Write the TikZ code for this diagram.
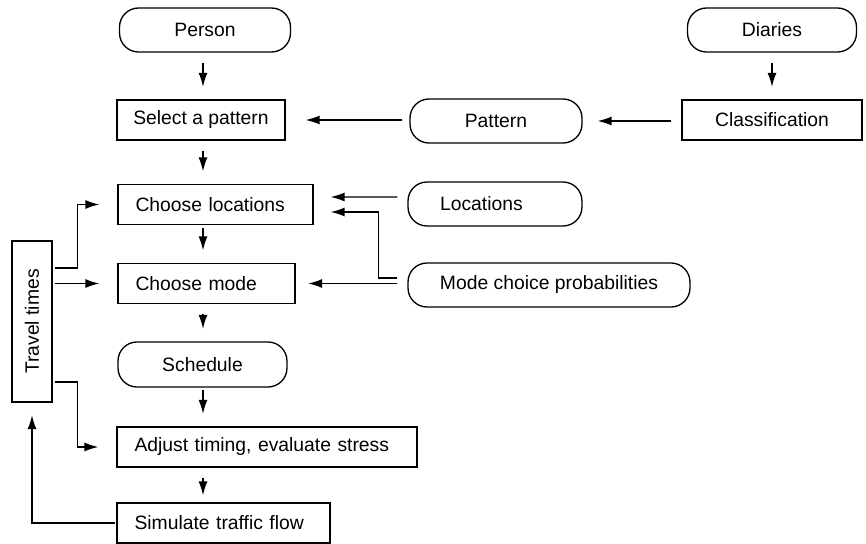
\documentclass[tikz,border=0pt]{standalone}
\usepackage{fontspec}
\setmainfont{Liberation Sans}
\usepackage{graphicx}
\usetikzlibrary{arrows.meta}

\tikzset{
  box/.style={draw, line width=0.75pt, minimum height=0.8cm, font=\fontsize{11}{13}\selectfont},
  process/.style={box, inner xsep=0.35cm, text width=#1, align=left},
  terminal/.style={box, rounded corners=0.38cm, minimum height=0.88cm, minimum width=#1},
  flow/.style={-{Latex[length=0.28cm,width=0.18cm]}, line width=0.8pt, shorten <=0.2cm, shorten >=0.25cm}
}

\begin{document}
\begin{tikzpicture}[x=0.02cm, y=-0.02cm]
  \useasboundingbox (0,0) rectangle (866,544);

  % Define the main column
  \coordinate (spine) at (203,0);

  % Inputs
  \node[terminal=3.42cm] (person) at (205,30) {Person};
  \node[terminal=3.38cm] (diaries) at (772,30) {Diaries};
  \node[box, minimum width=3.6cm] (classif) at (772,120) {Classification};
  \node[terminal=3.44cm] (pattern) at (496,121) {Pattern};
  \node[terminal=3.48cm, text width=2.2cm, align=left, inner xsep=0.64cm] (locations) at (495,204) {Locations};
  \node[terminal=5.64cm] (modeprob) at (549,285) {Mode choice probabilities};

  % Steps
  \node[box, minimum width=3.36cm] (select) at (201,120) {Select a pattern};
  \node[process=3.2cm] (chooseloc) at (215.5,204.5) {Choose locations};
  \node[process=2.84cm] (choosemode) at (206.5,283.5) {Choose mode};
  \node[terminal=3.38cm, minimum height=0.9cm] (schedule) at (202.5,364.5) {Schedule};
  \node[process=5.3cm] (adjust) at (267,447) {Adjust timing, evaluate stress};
  \node[process=3.56cm] (simulate) at (223.5,523) {Simulate traffic flow};

  % Travel times
  \node[box, minimum width=0.8cm, minimum height=3.22cm, inner sep=0pt] (travel) at (32,321.5) {\rotatebox{90}{Travel times}};

  % Main flow
  \draw[flow] (person.south -| spine) -- (select.north -| spine);
  \draw[flow] (select.south -| spine) -- (chooseloc.north -| spine);
  \draw[flow, shorten <=0.06cm] (chooseloc.south -| spine) -- (choosemode.north -| spine);
  \draw[flow] (choosemode.south -| spine) -- (schedule.north -| spine);
  \draw[flow, shorten <=0.04cm] (schedule.south -| spine) -- (adjust.north -| spine);
  \draw[flow, shorten >=0.14cm] (adjust.south -| spine) -- (simulate.north -| spine);

  % Inputs into the steps
  \draw[flow] (diaries.south) -- (classif.north);
  \draw[flow, shorten >=0.3cm] (pattern.east -| classif.west) -- (pattern.east);
  \draw[flow, shorten <=0.14cm, shorten >=0.4cm] (select.east -| pattern.west) -- (select.east);
  \draw[flow, shorten >=0.34cm] ([yshift=0.14cm]locations.west) -- ([yshift=0.15cm]chooseloc.east);
  \draw[flow, shorten >=0.34cm] ([yshift=0.14cm]modeprob.west) -- ++(-29,0) |- ([yshift=-0.15cm]chooseloc.east);
  \draw[flow] (choosemode.east -| modeprob.west) -- (choosemode.east);

  % Travel times feedback
  \draw[flow, shorten <=0.04cm, shorten >=0.36cm] ([yshift=1.07cm]travel.east) -- ++(25,0) |- (chooseloc.west);
  \draw[flow, shorten <=0.04cm, shorten >=0.36cm] (travel.east |- choosemode.west) -- (choosemode.west);
  \draw[flow, shorten <=0.04cm, shorten >=0.36cm] ([yshift=-1.21cm]travel.east) -- ++(25,0) |- (adjust.west);
  \draw[flow, shorten <=0.02cm] (simulate.west) -| (travel.south);

\end{tikzpicture}
\end{document}
